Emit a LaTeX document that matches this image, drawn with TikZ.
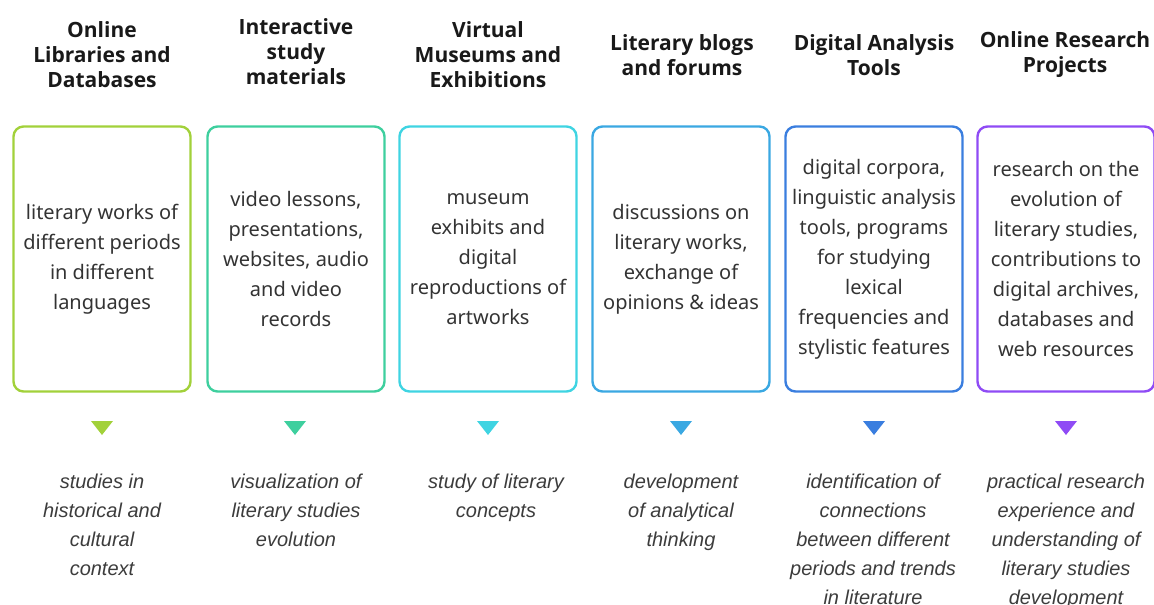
\documentclass[tikz,border=0pt]{standalone}
\usepackage{fontspec}
\setmainfont{Noto Sans}
\newfontfamily\headfont{Open Sans}
\newfontfamily\notefont{Liberation Sans}
\usetikzlibrary{positioning}

\definecolor{cA}{HTML}{A2D13A}
\definecolor{cB}{HTML}{3ECF9E}
\definecolor{cC}{HTML}{3FD4E2}
\definecolor{cD}{HTML}{3AA8E2}
\definecolor{cE}{HTML}{3A7EDF}
\definecolor{cF}{HTML}{8F4BF5}
\definecolor{txt}{HTML}{333333}
\definecolor{note}{HTML}{3C3C3C}

\begin{document}
\begin{tikzpicture}[x=1pt,y=-1pt]
\tikzset{head/.style={align=center,font=\headfont\bfseries\fontsize{21}{25}\selectfont,text=black!90},
  card/.style={draw,line width=2.4pt,rounded corners=10pt,minimum width=177pt,minimum height=265pt,
    align=center,font=\fontsize{20}{30}\selectfont,text=txt,inner sep=0pt},
  res/.style={align=center,anchor=north,font=\notefont\itshape\fontsize{20}{29}\selectfont,text=note}}
\useasboundingbox (0,0) rectangle (1154,605);

\path (102,55) node[head] (h1) {Online\\Libraries and\\Databases};
\path (296,52) node[head] (h2) {Interactive\\study\\materials};
\path (488,55) node[head] (h3) {Virtual\\Museums and\\Exhibitions};
\path (682,55) node[head] (h4) {Literary blogs\\and forums};
\path (874,55) node[head] (h5) {Digital Analysis\\Tools};
\path (1065,55) node[head] (h6) {Online Research\\Projects};

\path (102,259) node[card,draw=cA] (b1) {literary works of\\different periods\\in different\\languages};
\path (296,259) node[card,draw=cB] (b2) {video lessons,\\presentations,\\websites, audio\\and video\\records};
\path (488,259) node[card,draw=cC] (b3) {museum\\exhibits and\\digital\\reproductions of\\artworks};
\path (681,259) node[card,draw=cD] (b4) {discussions on\\literary works,\\exchange of\\opinions \& ideas};
\path (874,259) node[card,draw=cE] (b5) {digital corpora,\\linguistic analysis\\tools, programs\\for studying\\lexical\\frequencies and\\stylistic features};
\path (1066,259) node[card,draw=cF] (b6) {research on the\\evolution of\\literary studies,\\contributions to\\digital archives,\\databases and\\web resources};

\path (102,421) coordinate (t1);
\path (295,421) coordinate (t2);
\path (488,421) coordinate (t3);
\path (681,421) coordinate (t4);
\path (874,421) coordinate (t5);
\path (1066,421) coordinate (t6);

\fill[cA] (t1) ++(-11,0) -- ++(22,0) -- ++(-11,14) -- cycle;
\fill[cB] (t2) ++(-11,0) -- ++(22,0) -- ++(-11,14) -- cycle;
\fill[cC] (t3) ++(-11,0) -- ++(22,0) -- ++(-11,14) -- cycle;
\fill[cD] (t4) ++(-11,0) -- ++(22,0) -- ++(-11,14) -- cycle;
\fill[cE] (t5) ++(-11,0) -- ++(22,0) -- ++(-11,14) -- cycle;
\fill[cF] (t6) ++(-11,0) -- ++(22,0) -- ++(-11,14) -- cycle;

\path (102,470) node[res] (r1) {studies in\\historical and\\cultural\\context};
\path (296,470) node[res] (r2) {visualization of\\literary studies\\evolution};
\path (496,470) node[res] (r3) {study of literary\\concepts};
\path (681,470) node[res] (r4) {development\\of analytical\\thinking};
\path (873,470) node[res] (r5) {identification of\\connections\\between different\\periods and trends\\in literature};
\path (1066,470) node[res] (r6) {practical research\\experience and\\understanding of\\literary studies\\development};
\end{tikzpicture}
\end{document}
